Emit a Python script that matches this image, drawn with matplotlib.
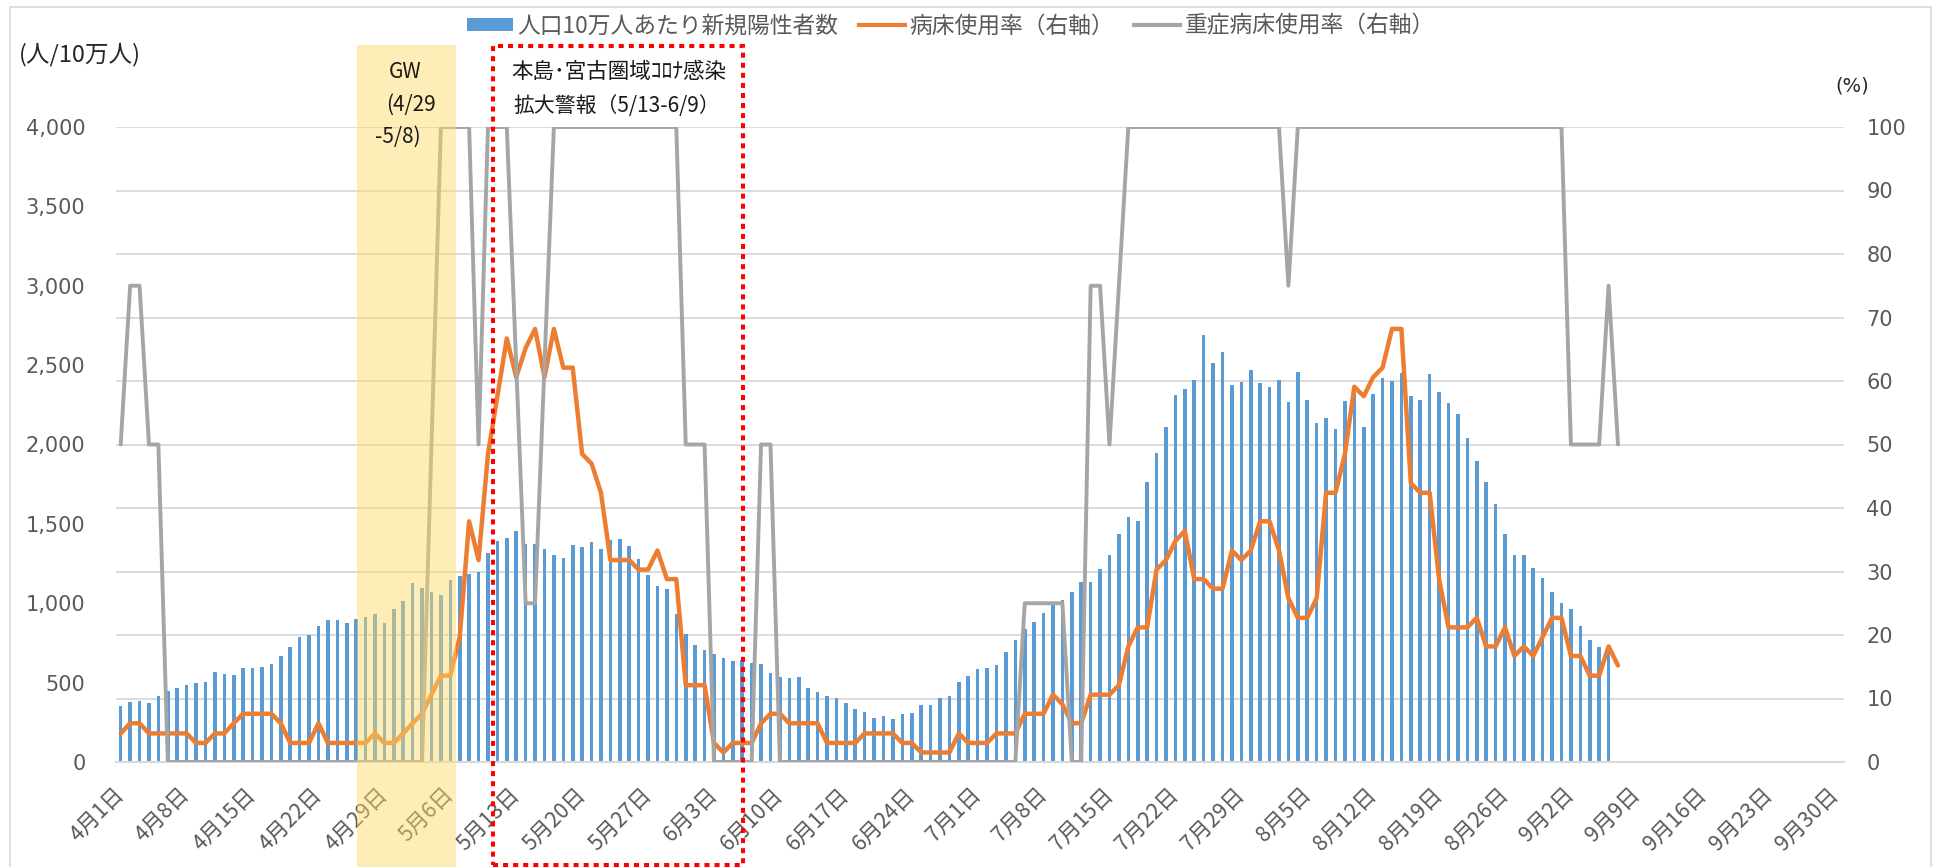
import matplotlib
matplotlib.use('Agg')
import matplotlib.pyplot as plt
from matplotlib.patches import Rectangle, Patch
from matplotlib.lines import Line2D
from matplotlib.transforms import ScaledTranslation
import numpy as np
import pandas as pd

plt.rcParams['font.family'] = ['Noto Sans CJK JP', 'DejaVu Sans']

# category axis: one slot per day, 4/1 - 9/30
dates = pd.date_range('2022-04-01', '2022-09-30', freq='D')
tick_dates = dates[::7]
tick_labels = [f'{d.month}月{d.day}日' for d in tick_dates]

# 人口10万人あたり新規陽性者数 (4/1 - 9/6)
new_cases = [
    354, 376, 382, 371, 415, 446, 468,
    486, 497, 506, 564, 557, 550, 592,
    590, 601, 617, 670, 723, 785, 800,
    857, 893, 893, 873, 899, 913, 933,
    873, 961, 1014, 1127, 1094, 1072, 1050,
    1147, 1171, 1186, 1197, 1314, 1395, 1414,
    1454, 1375, 1375, 1341, 1304, 1286, 1370,
    1357, 1388, 1344, 1397, 1403, 1359, 1277,
    1176, 1109, 1087, 933, 807, 734, 703,
    681, 652, 636, 641, 623, 617, 559,
    537, 526, 535, 469, 438, 418, 402,
    374, 334, 313, 275, 292, 269, 300,
    307, 357, 357, 405, 414, 504, 544,
    584, 594, 611, 691, 767, 840, 884,
    939, 990, 1019, 1070, 1133, 1137, 1214,
    1303, 1435, 1541, 1519, 1766, 1949, 2111,
    2314, 2349, 2404, 2690, 2513, 2583, 2374,
    2393, 2469, 2389, 2365, 2407, 2267, 2458,
    2279, 2137, 2166, 2095, 2276, 2330, 2111,
    2321, 2418, 2402, 2449, 2303, 2278, 2442,
    2331, 2262, 2194, 2039, 1895, 1766, 1626,
    1434, 1307, 1307, 1225, 1158, 1071, 1003,
    962, 854, 771, 722, 712,
]

# 病床使用率 (%) (4/1 - 9/7)
bed_rate = [
    4.5, 6.1, 6.1, 4.5, 4.5, 4.5, 4.5,
    4.5, 3.0, 3.0, 4.5, 4.5, 6.1, 7.6,
    7.6, 7.6, 7.6, 6.1, 3.0, 3.0, 3.0,
    6.1, 3.0, 3.0, 3.0, 3.0, 3.0, 4.5,
    3.0, 3.0, 4.5, 6.1, 7.6, 10.6, 13.6,
    13.6, 19.7, 37.9, 31.8, 48.5, 57.6, 66.7,
    60.6, 65.2, 68.2, 60.6, 68.2, 62.1, 62.1,
    48.5, 47.0, 42.4, 31.8, 31.8, 31.8, 30.3,
    30.3, 33.3, 28.8, 28.8, 12.1, 12.1, 12.1,
    3.0, 1.5, 3.0, 3.0, 3.0, 6.1, 7.6,
    7.6, 6.1, 6.1, 6.1, 6.1, 3.0, 3.0,
    3.0, 3.0, 4.5, 4.5, 4.5, 4.5, 3.0,
    3.0, 1.5, 1.5, 1.5, 1.5, 4.5, 3.0,
    3.0, 3.0, 4.5, 4.5, 4.5, 7.6, 7.6,
    7.6, 10.6, 9.1, 6.1, 6.1, 10.6, 10.6,
    10.6, 12.1, 18.2, 21.2, 21.2, 30.3, 31.8,
    34.8, 36.4, 28.8, 28.8, 27.3, 27.3, 33.3,
    31.8, 33.3, 37.9, 37.9, 33.3, 25.8, 22.7,
    22.7, 25.8, 42.4, 42.4, 48.5, 59.1, 57.6,
    60.6, 62.1, 68.2, 68.2, 43.9, 42.4, 42.4,
    28.8, 21.2, 21.2, 21.2, 22.7, 18.2, 18.2,
    21.2, 16.7, 18.2, 16.7, 19.7, 22.7, 22.7,
    16.7, 16.7, 13.6, 13.6, 18.2, 15.2,
]

# 重症病床使用率 (%) (4/1 - 9/7)
severe_rate = [
    50, 75, 75, 50, 50, 0, 0,
    0, 0, 0, 0, 0, 0, 0,
    0, 0, 0, 0, 0, 0, 0,
    0, 0, 0, 0, 0, 0, 0,
    0, 0, 0, 0, 0, 50, 100,
    100, 100, 100, 50, 100, 100, 100,
    62.5, 25, 25, 62.5, 100, 100, 100,
    100, 100, 100, 100, 100, 100, 100,
    100, 100, 100, 100, 50, 50, 50,
    0, 0, 0, 0, 0, 50, 50,
    0, 0, 0, 0, 0, 0, 0,
    0, 0, 0, 0, 0, 0, 0,
    0, 0, 0, 0, 0, 0, 0,
    0, 0, 0, 0, 0, 25, 25,
    25, 25, 25, 0, 0, 75, 75,
    50, 75, 100, 100, 100, 100, 100,
    100, 100, 100, 100, 100, 100, 100,
    100, 100, 100, 100, 100, 75, 100,
    100, 100, 100, 100, 100, 100, 100,
    100, 100, 100, 100, 100, 100, 100,
    100, 100, 100, 100, 100, 100, 100,
    100, 100, 100, 100, 100, 100, 100,
    50, 50, 50, 50, 75, 50,
]

left_ticks = [0, 500, 1000, 1500, 2000, 2500, 3000, 3500, 4000]
right_ticks = [0, 10, 20, 30, 40, 50, 60, 70, 80, 90, 100]

BLUE = '#5B9BD5'
ORANGE = '#ED7D31'
GRAY = '#A5A5A5'
GRID = '#D9D9D9'
TXT = '#595959'

W, H = 1934, 867
fig = plt.figure(figsize=(W / 100, H / 100), dpi=100)
ax = fig.add_axes([116 / W, 1 - 762 / H, 1728 / W, 635 / H])
ax2 = ax.twinx()

# gridlines follow the right axis (every 10 %)
for v in right_ticks[1:]:
    ax.axhline(v * 40, color=GRID, lw=1.3, zorder=0)

x_cases = (dates[:len(new_cases)] - dates[0]).days
x_rate = (dates[:len(bed_rate)] - dates[0]).days
ax.bar(x_cases, new_cases, width=0.38, color=BLUE, zorder=2)

ax2.plot(x_rate, bed_rate, color=ORANGE, lw=3.2, solid_joinstyle='round',
         solid_capstyle='round', zorder=3)
ax2.plot(x_rate, severe_rate, color=GRAY, lw=2.8, solid_joinstyle='round',
         solid_capstyle='round', zorder=4)

ax.set_xlim(-0.5, 183)
ax.set_ylim(0, 4000)
ax2.set_ylim(0, 100)

ax.set_yticks(left_ticks, [f'{v:,}' for v in left_ticks],
              fontfamily='DejaVu Sans', fontsize=15, color=TXT)
ax2.set_yticks(right_ticks, [str(v) for v in right_ticks],
               fontfamily='DejaVu Sans', fontsize=15, color=TXT)
tick_pos = (tick_dates - dates[0]).days
ax.set_xticks(tick_pos, tick_labels, rotation=45, ha='right', va='center',
              rotation_mode='anchor', fontsize=15.5, color=TXT)
shift = ScaledTranslation(-5 / 100, 0, fig.dpi_scale_trans)
for lab in ax.get_xticklabels():
    lab.set_transform(lab.get_transform() + shift)
ax.tick_params(axis='y', length=0, pad=22)
ax2.tick_params(axis='y', length=0, pad=16)
ax.tick_params(axis='x', length=0, pad=21)

for s in ['top', 'left', 'right']:
    ax.spines[s].set_visible(False)
ax.spines['bottom'].set_color(GRID)
ax.spines['bottom'].set_linewidth(1.5)
for s in ax2.spines.values():
    s.set_visible(False)

# axis unit labels
fig.text(19 / W, 1 - 55 / H, '(人/10万人)', fontsize=17, color='#262626',
         ha='left', va='center')
fig.text(1852 / W, 1 - 86 / H, '(%)', fontsize=14, color='#262626',
         fontfamily='DejaVu Sans', ha='center', va='center')

# GW band
fig.add_artist(Rectangle((357 / W, 0), 99 / W, (H - 45) / H,
                         transform=fig.transFigure, facecolor='#FFD966',
                         alpha=0.47, edgecolor='none', zorder=5))
fig.text(405 / W, 1 - 72 / H, 'GW', fontsize=15, color='#1a1a1a',
         ha='center', va='center', zorder=7)
fig.text(386 / W, 1 - 105 / H, '(4/29', fontsize=15, color='#1a1a1a',
         ha='left', va='center', zorder=7)
fig.text(375 / W, 1 - 137 / H, '-5/8)', fontsize=15, color='#1a1a1a',
         ha='left', va='center', zorder=7)

# alert period box
fig.add_artist(Rectangle((493 / W, 2 / H), 250 / W, 819 / H,
                         transform=fig.transFigure, fill=False,
                         edgecolor='#FF0000', lw=2.9,
                         linestyle=(0, (1.25, 1.25)), zorder=6))
fig.text(511 / W, 1 - 72 / H, '本島･宮古圏域ｺﾛﾅ感染', fontsize=15.5,
         color='#1a1a1a', ha='left', va='center', zorder=7)
fig.text(513 / W, 1 - 106 / H, '拡大警報（5/13-6/9）', fontsize=15,
         color='#1a1a1a', ha='left', va='center', zorder=7)

# chart border
fig.add_artist(Line2D([10 / W, 10 / W, 1931 / W, 1931 / W],
                      [0, 1 - 7 / H, 1 - 7 / H, 0],
                      transform=fig.transFigure, color=GRID, lw=1.2))

handles = [Patch(facecolor=BLUE, edgecolor='none'),
           Line2D([], [], color=ORANGE, lw=3),
           Line2D([], [], color=GRAY, lw=3)]
labels = ['人口10万人あたり新規陽性者数', '病床使用率（右軸）', '重症病床使用率（右軸）']
leg = fig.legend(handles, labels, loc='center', ncol=3,
                 bbox_to_anchor=(951 / W, 1 - 26 / H), frameon=False,
                 fontsize=16.4, handlelength=2.0, handleheight=0.5,
                 handletextpad=0.2, columnspacing=0.9, labelcolor=TXT)

fig.savefig('out.png', dpi=100)
